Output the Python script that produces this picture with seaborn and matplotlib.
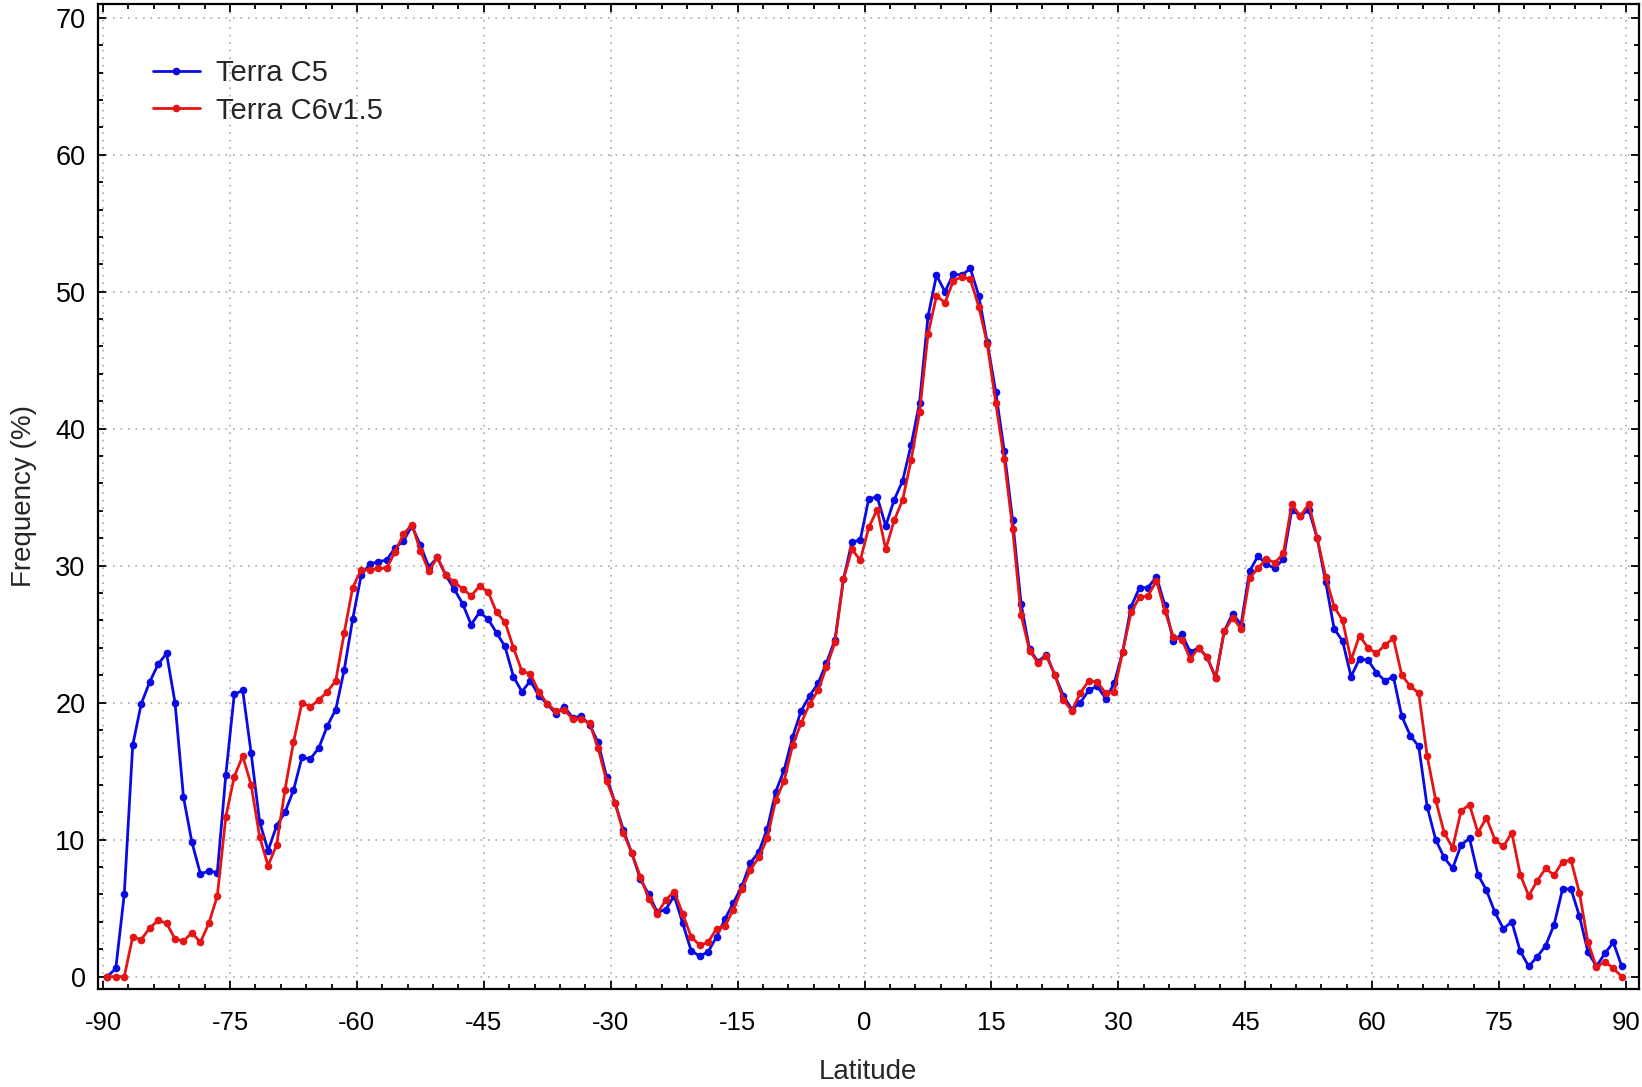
import numpy as np
import pandas as pd
import matplotlib
matplotlib.use("Agg")
import matplotlib.pyplot as plt
from matplotlib.ticker import MultipleLocator
import seaborn as sns

# 1-degree latitude bins, centred on half degrees
latitude = np.arange(-89.5, 90.0, 1.0)

terra_c5 = [
    0.0, 0.6, 6.0, 16.9, 19.9, 21.5, 22.8, 23.6, 20.0, 13.1, 9.8, 7.5, 7.7, 7.6, 14.7, 20.6,
    20.9, 16.3, 11.3, 9.2, 11.0, 12.0, 13.6, 16.0, 15.9, 16.7, 18.3, 19.5, 22.4, 26.1, 29.3,
    30.1, 30.3, 30.4, 31.3, 31.8, 32.9, 31.5, 29.9, 30.6, 29.3, 28.3, 27.2, 25.7, 26.6, 26.1,
    25.1, 24.1, 21.9, 20.8, 21.6, 20.5, 19.9, 19.2, 19.7, 18.9, 19.0, 18.4, 17.1, 14.6,
    12.7, 10.7, 9.0, 7.1, 6.0, 4.7, 4.9, 5.9, 3.9, 1.9, 1.5, 1.8, 2.9, 4.2, 5.4, 6.6, 8.3,
    9.1, 10.8, 13.5, 15.1, 17.5, 19.4, 20.5, 21.4, 22.9, 24.6, 29.0, 31.7, 31.9,
    34.9, 35.0, 32.9, 34.8, 36.2, 38.8, 41.9, 48.2, 51.2, 50.0, 51.3, 51.2, 51.7, 49.7, 46.3,
    42.7, 38.4, 33.3, 27.2, 23.9, 23.0, 23.5, 22.0, 20.5, 19.5, 20.0, 20.9, 21.2, 20.3, 21.4,
    23.7, 27.0, 28.4, 28.4, 29.2, 27.1, 24.5, 25.0, 23.7, 24.0, 23.3, 21.8, 25.2, 26.5, 25.7,
    29.6, 30.7, 30.1, 29.8, 30.5, 34.1, 33.6, 34.1, 32.0, 28.8, 25.4, 24.5, 21.9, 23.2, 23.1,
    22.2, 21.6, 21.9, 19.0, 17.6, 16.8, 12.4, 10.0, 8.7, 7.9, 9.6, 10.1, 7.45, 6.3, 4.7, 3.5,
    4.0, 1.85, 0.75, 1.45, 2.26, 3.8, 6.4, 6.4, 4.4, 1.8, 0.75, 1.7, 2.5, 0.75,
]

terra_c6 = [
    0.0, 0.0, 0.0, 2.9, 2.7, 3.55, 4.1, 3.9, 2.75, 2.6, 3.2, 2.5, 3.9, 5.9, 11.65, 14.6,
    16.1, 14.0, 10.2, 8.1, 9.6, 13.65, 17.1, 20.0, 19.7, 20.2, 20.8, 21.6, 25.1, 28.4, 29.7,
    29.7, 29.8, 29.8, 31.0, 32.3, 33.0, 31.1, 29.6, 30.6, 29.3, 28.8, 28.3, 27.8, 28.5, 28.1,
    26.6, 25.9, 24.0, 22.3, 22.1, 20.8, 19.9, 19.4, 19.5, 18.8, 18.8, 18.5, 16.7, 14.3,
    12.7, 10.5, 9.0, 7.3, 5.7, 4.6, 5.6, 6.2, 4.6, 2.9, 2.3, 2.5, 3.5, 3.7, 4.9, 6.4, 7.8,
    8.7, 10.1, 12.9, 14.3, 16.9, 18.5, 19.9, 20.9, 22.6, 24.4, 29.0, 31.2, 30.4,
    32.8, 34.1, 31.2, 33.3, 34.8, 37.7, 41.2, 46.9, 49.7, 49.2, 50.8, 51.1, 50.9, 48.9, 46.2,
    41.9, 37.8, 32.7, 26.4, 23.8, 22.9, 23.4, 22.0, 20.2, 19.4, 20.7, 21.6, 21.5, 20.7, 20.8,
    23.7, 26.6, 27.7, 27.8, 28.9, 26.7, 24.8, 24.6, 23.2, 24.0, 23.3, 21.8, 25.2, 26.2, 25.4,
    29.1, 29.8, 30.5, 30.2, 30.9, 34.5, 33.6, 34.5, 32.0, 29.2, 27.0, 26.0, 23.1, 24.9, 24.0,
    23.6, 24.2, 24.7, 22.0, 21.2, 20.7, 16.1, 12.9, 10.5, 9.4, 12.1, 12.55, 10.5, 11.6, 10.0,
    9.5, 10.5, 7.45, 5.9, 7.0, 7.9, 7.4, 8.4, 8.5, 6.1, 2.5, 0.7, 1.1, 0.6, 0.0,
]

series_names = ["Terra C5", "Terra C6v1.5"]
series_colors = ["#0a0ae6", "#e61414"]
x_ticks = list(range(-90, 91, 15))
y_ticks = list(range(0, 71, 10))

df = pd.concat([
    pd.DataFrame({"Latitude": latitude, "Frequency": terra_c5, "Product": series_names[0]}),
    pd.DataFrame({"Latitude": latitude, "Frequency": terra_c6, "Product": series_names[1]}),
], ignore_index=True)

sns.set_style("ticks")
plt.rcParams["font.family"] = ["Liberation Sans", "DejaVu Sans"]
plt.rcParams["axes.unicode_minus"] = False

fig = plt.figure(figsize=(16.42, 10.87), dpi=100)
ax = fig.add_axes([0.0597, 0.0902, 0.9383, 0.9061])

sns.lineplot(
    data=df, x="Latitude", y="Frequency", hue="Product",
    hue_order=series_names, palette=dict(zip(series_names, series_colors)),
    marker="o", markersize=5.5, markeredgewidth=0, linewidth=2.0,
    sort=False, estimator=None, ax=ax,
)

ax.set_xlim(-90.6, 91.5)
ax.set_ylim(-0.9, 71.0)
ax.set_xticks(x_ticks)
ax.set_yticks(y_ticks)
ax.xaxis.set_minor_locator(MultipleLocator(3))
ax.yaxis.set_minor_locator(MultipleLocator(2))
ax.tick_params(which="both", direction="in", top=True, right=True,
               colors="black", width=1.3)
ax.tick_params(which="major", length=6)
ax.tick_params(axis="x", which="major", pad=16, labelsize=18.5)
ax.tick_params(axis="y", which="major", pad=9, labelsize=19.5)
ax.tick_params(which="minor", length=3.5)
ax.grid(True, which="major", linestyle=(0, (1, 3.5)), color="#aaaaaa", linewidth=1.2)

for side in ax.spines.values():
    side.set_linewidth(1.6)
    side.set_color("black")

ax.set_xlabel("Latitude", fontsize=20, labelpad=17)
ax.set_ylabel("Frequency (%)", fontsize=20, labelpad=13)

handles, labels = ax.get_legend_handles_labels()
ax.legend(handles, labels, loc="upper left", bbox_to_anchor=(0.028, 0.956),
          frameon=False, fontsize=21, handlelength=1.6, handletextpad=0.55,
          labelspacing=0.33, borderaxespad=0)

fig.savefig("out.png", dpi=100)
